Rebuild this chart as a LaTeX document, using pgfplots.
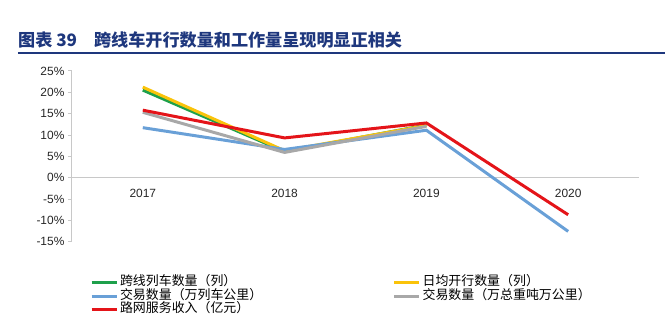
\documentclass[border=0pt]{standalone}
\usepackage{pgfplots}
\pgfplotsset{compat=1.18}
\usepackage{fontspec}
\setmainfont{Liberation Sans}
\newfontfamily\cjk{Noto Sans CJK SC}
\definecolor{cgreen}{RGB}{30,160,75}
\definecolor{cyellow}{RGB}{250,195,10}
\definecolor{cblue}{RGB}{105,160,215}
\definecolor{cgray}{RGB}{168,168,168}
\definecolor{cred}{RGB}{228,20,25}
\definecolor{titleblue}{RGB}{30,55,125}
\definecolor{axgray}{RGB}{200,200,200}
\begin{document}
\begin{tikzpicture}[x=1bp,y=1bp]
\path (0,0) rectangle (666,326);
\node[anchor=west, inner sep=0pt, text=titleblue, font=\fontsize{17.2}{18}\cjk\bfseries] at (18,286) {图表 39\hspace{17bp}跨线车开行数量和工作量呈现明显正相关};
\draw[titleblue, line width=2bp] (18,273) -- (666,273);
\begin{axis}[
  at={(72bp,84bp)}, anchor=south west,
  scale only axis, width=568bp, height=171bp,
  xmin=-0.5, xmax=3.5, ymin=-15, ymax=25,
  axis x line=middle, axis y line=left,
  x axis line style={-, axgray, line width=1.2bp},
  y axis line style={-, axgray, line width=0.8bp},
  xtick={0,1,2,3}, xticklabels={2017,2018,2019,2020},
  xtick style={draw=none},
  x tick label style={yshift=-4bp},
  ytick={-15,-10,...,25},
  ytick style={axgray, line width=0.8bp},
  tick align=outside, major tick length=4bp,
  yticklabel={\pgfmathprintnumber{\tick}\%},
  /pgf/number format/assume math mode=true,
  tick label style={font=\fontsize{12}{14}\selectfont, text=black!85},
  clip=false,
  legend columns=2,
  legend cell align=left,
  legend image code/.code={\draw[#1, line width=3bp] (-2bp,0bp) -- (23bp,0bp); \path (25bp,0bp);},
  legend style={draw=none, fill=none, at={(axis description cs:0.0317,-0.203)}, anchor=north west,
    font=\fontsize{13}{14}\cjk, inner sep=0pt, row sep=1bp,
    nodes={inner sep=0pt, text height=9.5bp, text depth=3bp}},
]
\addplot[cgreen, line width=3bp] coordinates {(0,20.5) (1,6.1) (2,12.3)};
\addlegendentry{\makebox[273bp][l]{跨线列车数量（列）}}
\addplot[cyellow, line width=3bp] coordinates {(0,21.2) (1,6.3) (2,12.2)};
\addlegendentry{日均开行数量（列）}
\addplot[cblue, line width=3bp] coordinates {(0,11.7) (1,6.6) (2,11.1) (3,-12.6)};
\addlegendentry{\makebox[273bp][l]{交易数量（万列车公里）}}
\addplot[cgray, line width=3bp] coordinates {(0,15.3) (1,5.9) (2,12.0)};
\addlegendentry{交易数量（万总重吨万公里）}
\addplot[cred, line width=3bp] coordinates {(0,15.8) (1,9.3) (2,12.8) (3,-8.7)};
\addlegendentry{\makebox[273bp][l]{路网服务收入（亿元）}}
\end{axis}
\end{tikzpicture}
\end{document}
